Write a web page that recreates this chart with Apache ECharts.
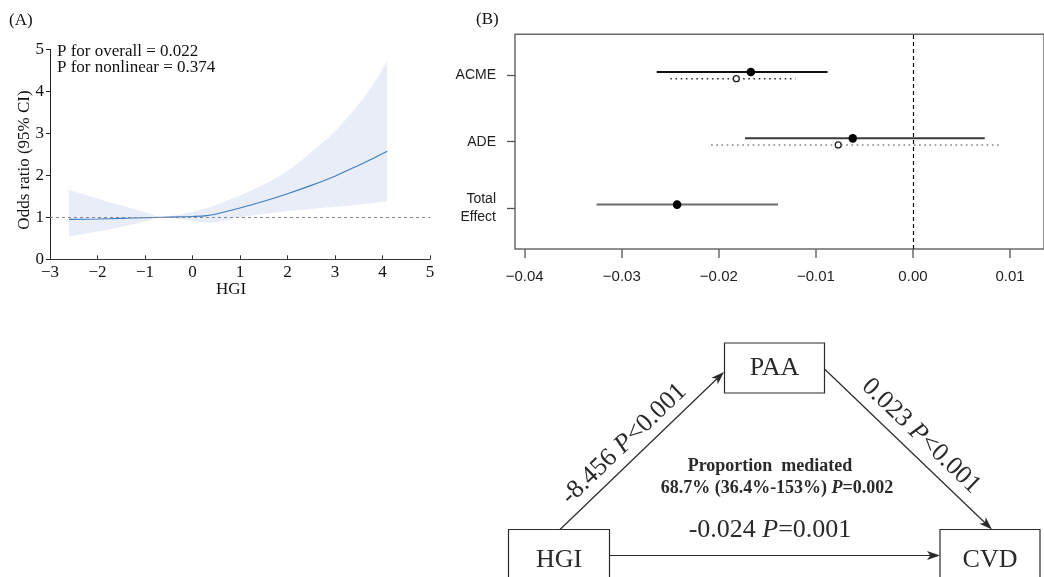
<!DOCTYPE html>
<html><head><meta charset="utf-8">
<script src="https://cdn.jsdelivr.net/npm/echarts@6/dist/echarts.min.js"></script>
<style>html,body{margin:0;padding:0;background:#fff}#c{width:1044px;height:577px}</style>
</head><body><div id="c"></div>
<script>
// ---------- Panel A: restricted cubic spline ----------
const hgiX    = [-2.6, -2, -1.5, -1, -0.65, -0.3, 0, 0.3, 0.5, 1, 1.5, 2, 2.5, 3, 3.5, 3.8, 4.1];
const orFit   = [0.95, 0.96, 0.975, 0.99, 1.0, 1.01, 1.02, 1.04, 1.08, 1.22, 1.38, 1.56, 1.76, 1.98, 2.24, 2.40, 2.57];
const orLower = [0.54, 0.66, 0.77, 0.90, 1.0, 0.96, 0.91, 0.87, 0.88, 1.0, 1.08, 1.15, 1.20, 1.25, 1.30, 1.34, 1.38];
const orUpper = [1.65, 1.45, 1.28, 1.12, 1.0, 1.06, 1.13, 1.22, 1.30, 1.52, 1.78, 2.10, 2.55, 3.05, 3.70, 4.15, 4.73];
const xTicksA = [-3, -2, -1, 0, 1, 2, 3, 4, 5];
const yTicksA = [0, 1, 2, 3, 4, 5];
const pTexts  = ['P for overall = 0.022', 'P for nonlinear = 0.374'];

// ---------- Panel B: mediation forest plot ----------
const forestRows   = ['Total\nEffect', 'ADE', 'ACME'];
const solidEst     = [-0.0243, -0.0062, -0.0167];
const solidLow     = [-0.0326, -0.0173, -0.0264];
const solidHigh    = [-0.0139, 0.0074, -0.0088];
const dottedEst    = [null, -0.0077, -0.0182];
const dottedLow    = [null, -0.0208, -0.0250];
const dottedHigh   = [null, 0.0090, -0.0121];
const xTicksB      = [-0.04, -0.03, -0.02, -0.01, 0.00, 0.01];

// ---------- Panel C: mediation diagram ----------
const medNodes  = ['HGI', 'PAA', 'CVD'];
const medPathA  = ['-8.456 ', 'P', '<0.001'];
const medPathB  = ['0.023 ', 'P', '<0.001'];
const medPathC  = ['-0.024 ', 'P', '=0.001'];
const medProp   = ['Proportion  mediated', '68.7% (36.4%-153%) ', 'P', '=0.002'];

const SERIF = '"Liberation Serif", "Times New Roman", serif';
const SANS  = '"Liberation Sans", Arial, sans-serif';
const minus = v => (v < 0 ? '\u2212' : '') + Math.abs(v);

const fitData   = hgiX.map((x, i) => [x, orFit[i]]);
const bandData  = hgiX.map((x, i) => [x, orLower[i], orUpper[i]]);

const solidData = forestRows.map((r, i) => [i + 1 + 0.05, solidLow[i], solidEst[i], solidHigh[i], i]);
const dottedData = forestRows.map((r, i) => [i + 1 - 0.05, dottedLow[i], dottedEst[i], dottedHigh[i], i])
  .filter(d => d[2] !== null);
const solidColors  = ['#6a6a6a', '#3a3a3a', '#111111'];
const dottedColors = ['#777777', '#808080', '#333333'];

// Catmull-Rom curve through pixel points -> SVG path commands (without the initial move)
function crSegments(p) {
  let d = '';
  for (let i = 0; i < p.length - 1; i++) {
    const p0 = p[Math.max(0, i - 1)], p1 = p[i], p2 = p[i + 1], p3 = p[Math.min(p.length - 1, i + 2)];
    const c1 = [p1[0] + (p2[0] - p0[0]) / 6, p1[1] + (p2[1] - p0[1]) / 6];
    const c2 = [p2[0] - (p3[0] - p1[0]) / 6, p2[1] - (p3[1] - p1[1]) / 6];
    d += ' C' + c1[0] + ' ' + c1[1] + ' ' + c2[0] + ' ' + c2[1] + ' ' + p2[0] + ' ' + p2[1];
  }
  return d;
}
function bandRender(params, api) {
  if (params.dataIndex !== 0) return null;
  const up = [], lo = [];
  for (let i = 0; i < bandData.length; i++) {
    up.push(api.coord([bandData[i][0], bandData[i][2]]));
    lo.push(api.coord([bandData[i][0], bandData[i][1]]));
  }
  const loR = lo.slice().reverse();
  const d = 'M' + up[0][0] + ' ' + up[0][1] + crSegments(up) +
    ' L' + loR[0][0] + ' ' + loR[0][1] + crSegments(loR) + ' Z';
  return { type: 'path', shape: { pathData: d }, style: { fill: '#e9edf8' } };
}

function forestRender(kind) {
  return function (params, api) {
    const y = api.value(0), lo = api.value(1), est = api.value(2), hi = api.value(3), row = api.value(4);
    const a = api.coord([lo, y]), b = api.coord([hi, y]), c = api.coord([est, y]);
    const solid = kind === 'solid';
    const col = solid ? solidColors[row] : dottedColors[row];
    return {
      type: 'group',
      children: [
        { type: 'line', shape: { x1: a[0], y1: a[1], x2: b[0], y2: b[1] },
          style: { stroke: col, lineWidth: solid ? 2 : 1.6, lineDash: solid ? null : [1.6, 3.6] } },
        { type: 'circle', shape: { cx: c[0], cy: c[1], r: solid ? 4.3 : 3 },
          style: solid ? { fill: '#000' } : { fill: '#fff', stroke: '#222', lineWidth: 1.3 } }
      ]
    };
  };
}

// diagram geometry
const boxes = [
  { x: 508.5, y: 529.5, w: 101, h: 60 },
  { x: 724.5, y: 343, w: 100, h: 50 },
  { x: 940, y: 529.5, w: 100, h: 60 }
];
const INK = '#2a2a2a';
function arrow(x1, y1, x2, y2) {
  const a = Math.atan2(y2 - y1, x2 - x1), L = 13, W = 4.5;
  const ca = Math.cos(a), sa = Math.sin(a);
  const bx = x2 - L * ca, by = y2 - L * sa;
  const nx = x2 - 0.75 * L * ca, ny = y2 - 0.75 * L * sa;
  return [
    { type: 'line', shape: { x1, y1, x2: nx, y2: ny }, style: { stroke: INK, lineWidth: 1.2 } },
    { type: 'polygon', shape: { points: [[x2, y2], [bx - W * sa, by + W * ca], [nx, ny], [bx + W * sa, by - W * ca]] },
      style: { fill: INK } }
  ];
}
function richLabel(parts, x, y, rot, size, bold) {
  const w = bold ? 'bold' : 'normal';
  return {
    type: 'text', x, y, rotation: rot || 0,
    style: {
      text: '{n|' + parts[0] + '}{i|' + parts[1] + '}{n|' + parts[2] + '}',
      align: 'center', verticalAlign: 'middle',
      rich: {
        n: { fontFamily: SERIF, fontSize: size, fontWeight: w, fill: INK },
        i: { fontFamily: SERIF, fontSize: size, fontWeight: w, fontStyle: 'italic', fill: INK }
      }
    }
  };
}
function plainText(t, x, y, size, opts) {
  opts = opts || {};
  return {
    type: 'text', x, y, rotation: opts.rot || 0,
    style: { text: t, fontFamily: opts.family || SERIF, fontSize: size, fontWeight: opts.weight || 'normal',
      fill: opts.fill || '#111', align: opts.align || 'center', verticalAlign: 'middle' }
  };
}

const graphics = [];
graphics.push(plainText('(A)', 9, 20.5, 17, { align: 'left' }));
graphics.push(plainText('(B)', 476, 19.5, 17, { align: 'left' }));
graphics.push(plainText(pTexts[0], 57, 52, 17, { align: 'left' }));
graphics.push(plainText(pTexts[1], 57, 67.5, 17, { align: 'left' }));
graphics.push(plainText('Odds ratio (95% CI)', 25, 160, 17, { rot: Math.PI / 2 }));
graphics.push(plainText('HGI', 231, 290, 17));
boxes.forEach((b, i) => {
  graphics.push({ type: 'rect', shape: { x: b.x, y: b.y, width: b.w, height: b.h },
    style: { fill: '#fff', stroke: INK, lineWidth: 1.2 } });
  graphics.push(plainText(medNodes[i], b.x + b.w / 2, b.y + (i === 1 ? 25 : 30.5), 26, { fill: INK }));
});
arrow(560, 529.5, 724, 372).forEach(e => graphics.push(e));
arrow(824.5, 369, 992, 529.5).forEach(e => graphics.push(e));
arrow(609.5, 555.5, 940, 555.5).forEach(e => graphics.push(e));
graphics.push(richLabel(medPathA, 624, 444, Math.atan2(157, 164), 26));
graphics.push(richLabel(medPathB, 921, 436, -Math.atan2(160.5, 167.5), 26));
graphics.push(richLabel(medPathC, 770, 530, 0, 26));
graphics.push(plainText(medProp[0], 770, 466.5, 18, { weight: 'bold', fill: INK }));
graphics.push(richLabel([medProp[1], medProp[2], medProp[3]], 777, 488.5, 0, 18, true));

const chart = echarts.init(document.getElementById('c'), null, { renderer: 'canvas' });
chart.setOption({
  animation: false,
  backgroundColor: '#fff',
  grid: [
    { left: 50, top: 49.3, right: 614, bottom: 317.7 },
    { left: 515, top: 34.3, right: -4, bottom: 328, show: true, borderColor: '#6b6b6b', borderWidth: 1.5, backgroundColor: 'transparent' }
  ],
  xAxis: [
    { gridIndex: 0, type: 'value', min: -3, max: 5, interval: 1,
      axisLine: { show: true, onZero: false, lineStyle: { color: '#333', width: 1 } },
      axisTick: { show: true, inside: true, length: 4, lineStyle: { color: '#333' } },
      axisLabel: { margin: 5, fontFamily: SERIF, fontSize: 17, color: '#111', formatter: v => minus(v) },
      splitLine: { show: false } },
    { gridIndex: 1, type: 'value', min: -0.041, max: 0.0135,
      axisLine: { show: false, onZero: false },
      axisTick: { show: true, length: 9, customValues: xTicksB, lineStyle: { color: '#6b6b6b', width: 1.5 } },
      axisLabel: { margin: 20, customValues: xTicksB, fontFamily: SANS, fontSize: 15, color: '#222',
        formatter: v => (v < 0 ? '\u2212' : '') + Math.abs(v).toFixed(2) },
      splitLine: { show: false } }
  ],
  yAxis: [
    { gridIndex: 0, type: 'value', min: 0, max: 5, interval: 1,
      axisLine: { show: true, onZero: false, lineStyle: { color: '#222', width: 1 } },
      axisTick: { show: true, inside: false, length: 4, lineStyle: { color: '#222' } },
      axisLabel: { margin: 6, fontFamily: SERIF, fontSize: 17, color: '#111', formatter: v => String(v) },
      splitLine: { show: false } },
    { gridIndex: 1, type: 'value', min: 0.38, max: 3.62,
      axisLine: { show: false, onZero: false },
      axisTick: { show: true, length: 8, customValues: [1, 2, 3], lineStyle: { color: '#555', width: 1.3 } },
      axisLabel: { margin: 19, customValues: [1, 2, 3], fontFamily: SANS, fontSize: 14, color: '#222', lineHeight: 18,
        formatter: v => forestRows[Math.round(v) - 1] },
      splitLine: { show: false } }
  ],
  series: [
    { type: 'custom', xAxisIndex: 0, yAxisIndex: 0, data: bandData, renderItem: bandRender,
      encode: { x: 0, y: [1, 2] }, silent: true, z: 1 },
    { type: 'line', xAxisIndex: 0, yAxisIndex: 0, data: fitData, symbol: 'none', smooth: 0.3,
      lineStyle: { color: '#3b7dbf', width: 1.1 }, silent: true, z: 3,
      markLine: { silent: true, symbol: 'none', label: { show: false },
        lineStyle: { color: '#8a8a8a', type: [3, 3], width: 1 }, data: [{ yAxis: 1 }] } },
    { type: 'custom', xAxisIndex: 1, yAxisIndex: 1, data: solidData, renderItem: forestRender('solid'),
      encode: { x: [1, 2, 3], y: 0 }, silent: true,
      markLine: { silent: true, symbol: 'none', label: { show: false },
        lineStyle: { color: '#111', type: [4, 3], width: 1.2 }, data: [{ xAxis: 0 }] } },
    { type: 'custom', xAxisIndex: 1, yAxisIndex: 1, data: dottedData, renderItem: forestRender('dotted'),
      encode: { x: [1, 2, 3], y: 0 }, silent: true }
  ],
  graphic: graphics
});
</script>
</body></html>
